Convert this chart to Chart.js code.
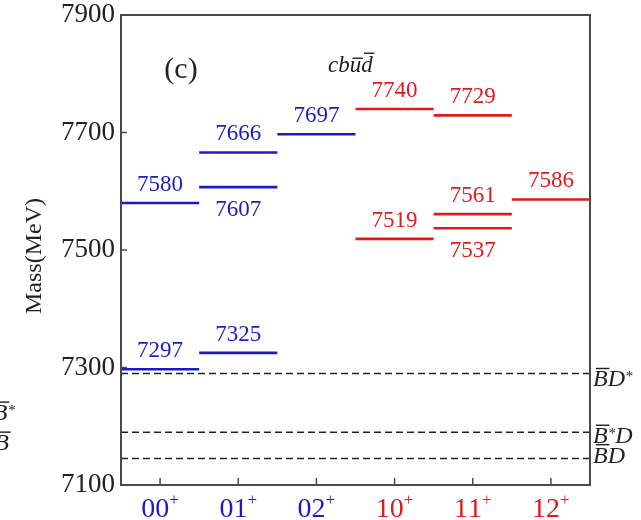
<!DOCTYPE html>
<html>
<head>
<meta charset="utf-8">
<script src="https://cdn.jsdelivr.net/npm/chart.js@4/dist/chart.umd.min.js"></script>
<style>
html, body { margin: 0; padding: 0; background: #fff; }
canvas { display: block; }
</style>
</head>
<body>
<canvas id="chart" width="641" height="520"></canvas>
<script>
// quantum numbers (I J^P) along the x axis
const categories = ['00', '01', '02', '10', '11', '12'];
// mass levels: which category each belongs to, and its mass in MeV
const levelCategory = [0, 0, 1, 1, 1, 2, 3, 3, 4, 4, 4, 5];
const levelMass = [7580, 7297, 7666, 7607, 7325, 7697, 7740, 7519, 7729, 7561, 7537, 7586];
const labelBelow = [false, false, false, true, false, false, false, false, false, false, true, false];
// meson-meson thresholds (dashed lines)
const thresholdNames = ['B\u0304D*', 'B\u0304*D', 'B\u0304D'];
const thresholdMass = [7290, 7190, 7145];
const yTicks = [7100, 7300, 7500, 7700, 7900];

const BLUE = '#1c1cc4';
const RED = '#e01a1a';
const AXIS = '#4a4a4a';
const SERIF = '"Liberation Serif", "DejaVu Serif", serif';
const catColor = (i) => categories[i][0] === '0' ? BLUE : RED;
const thresholdLabelShift = [13, 11, 4];

// draws a string with overlines (U+0304) and superscripts (* and ⁺)
const drawRich = (ctx, str, x, y, size, opts = {}) => {
    const style = opts.italic ? 'italic ' : '';
    const parts = [];
    for (const ch of str) {
        if (ch === '\u0304') { parts[parts.length - 1].bar = true; continue; }
        const sup = ch === '*' || ch === '⁺';
        parts.push({ t: ch === '⁺' ? '+' : ch, sup });
    }
    let total = 0;
    parts.forEach(p => {
        p.size = p.sup ? Math.round(size * 0.62) : size;
        ctx.font = `${style}${p.size}px ${SERIF}`;
        const m = ctx.measureText(p.t);
        p.w = m.width;
        p.asc = m.actualBoundingBoxAscent;
        total += p.w;
    });
    let cx = x;
    if (opts.align === 'center') cx = x - total / 2;
    if (opts.align === 'right') cx = x - total;
    ctx.textAlign = 'left';
    ctx.textBaseline = 'alphabetic';
    parts.forEach(p => {
        ctx.font = `${style}${p.size}px ${SERIF}`;
        const raise = p.sup ? (p.t === '*' ? size * 0.22 : size * 0.42) : 0;
        ctx.fillText(p.t, cx, y - raise);
        if (p.bar) {
            const slant = opts.italic ? size * 0.12 : 0;
            const by = y - p.asc - size * 0.12;
            ctx.save();
            ctx.lineWidth = Math.max(1, size * 0.06);
            ctx.strokeStyle = ctx.fillStyle;
            ctx.beginPath();
            ctx.moveTo(cx + slant, by);
            ctx.lineTo(cx + p.w + slant * 0.6, by);
            ctx.stroke();
            ctx.restore();
        }
        cx += p.w;
    });
};

const levelDatasets = levelMass.map((m, i) => {
    const c = levelCategory[i];
    return {
        data: [{ x: c - 0.5, y: m }, { x: c + 0.5, y: m }],
        borderColor: catColor(c),
        borderWidth: 2.7,
        pointRadius: 0,
        fill: false,
    };
});

const thresholdDatasets = thresholdMass.map(m => ({
    data: [{ x: -0.5, y: m }, { x: categories.length - 0.5, y: m }],
    borderColor: '#222',
    borderWidth: 1.5,
    borderDash: [7, 4],
    pointRadius: 0,
    fill: false,
}));

const decorations = {
    id: 'decorations',
    afterDraw(chart) {
        const { ctx, chartArea: a, scales: { x, y } } = chart;
        ctx.save();

        // frame + inward ticks
        ctx.strokeStyle = AXIS;
        ctx.lineWidth = 2;
        ctx.strokeRect(a.left, a.top, a.right - a.left, a.bottom - a.top);
        ctx.lineWidth = 1.5;
        ctx.beginPath();
        yTicks.forEach(v => {
            const py = y.getPixelForValue(v);
            ctx.moveTo(a.left, py);
            ctx.lineTo(a.left + 6, py);
        });
        categories.forEach((c, i) => {
            const px = x.getPixelForValue(i);
            ctx.moveTo(px, a.bottom);
            ctx.lineTo(px, a.bottom - 7);
        });
        ctx.stroke();

        // x tick labels with superscript parity
        categories.forEach((c, i) => {
            ctx.fillStyle = catColor(i);
            drawRich(ctx, c + '⁺', x.getPixelForValue(i), 517, 28, { align: 'center' });
        });

        // mass labels
        levelMass.forEach((m, i) => {
            const c = levelCategory[i];
            const px = x.getPixelForValue(c);
            const py = y.getPixelForValue(m);
            ctx.fillStyle = catColor(c);
            ctx.font = `23px ${SERIF}`;
            ctx.textAlign = 'center';
            ctx.textBaseline = 'alphabetic';
            ctx.fillText(String(m), px, labelBelow[i] ? py + 29 : py - 12);
        });

        // threshold names on the right
        ctx.fillStyle = '#222';
        thresholdMass.forEach((m, i) => {
            drawRich(ctx, thresholdNames[i], a.right + 3, y.getPixelForValue(m) + thresholdLabelShift[i], 24, { italic: true });
        });

        // cut-off labels from neighbouring panel
        drawRich(ctx, 'B\u0304*', 15, 420, 24, { italic: true, align: 'right' });
        drawRich(ctx, 'B\u0304', 9, 450, 24, { italic: true, align: 'right' });

        // panel tag and quark content
        ctx.fillStyle = '#222';
        ctx.font = `30px ${SERIF}`;
        ctx.textAlign = 'center';
        ctx.fillText('(c)', 181, 78);
        drawRich(ctx, 'cbu\u0304d\u0304', 328, 72, 23, { italic: true });

        // y axis title
        ctx.translate(35, 256);
        ctx.rotate(-Math.PI / 2);
        ctx.font = `24px ${SERIF}`;
        ctx.textAlign = 'center';
        ctx.textBaseline = 'middle';
        ctx.fillText('Mass(MeV)', 0, 0);
        ctx.restore();
    }
};

new Chart(document.getElementById('chart'), {
    type: 'line',
    data: { datasets: [...thresholdDatasets, ...levelDatasets] },
    options: {
        responsive: false,
        animation: false,
        devicePixelRatio: 1,
        layout: { padding: { left: 0, top: 15, right: 51, bottom: 0 } },
        plugins: { legend: { display: false }, tooltip: { enabled: false } },
        scales: {
            x: {
                type: 'linear',
                min: -0.5,
                max: categories.length - 0.5,
                grid: { display: false, drawTicks: false },
                border: { display: false },
                ticks: { display: false, stepSize: 1 },
                afterFit: (s) => { s.height = 35; s.paddingLeft = 0; s.paddingRight = 0; }
            },
            y: {
                min: yTicks[0],
                max: yTicks[yTicks.length - 1],
                grid: { display: false, drawTicks: false },
                border: { display: false },
                ticks: {
                    stepSize: 200,
                    padding: 6,
                    color: '#222',
                    font: { family: SERIF, size: 27 },
                    callback: (v) => String(v)
                },
                afterFit: (s) => { s.width = 121; s.paddingTop = 0; s.paddingBottom = 0; }
            }
        }
    },
    plugins: [decorations]
});
</script>
</body>
</html>
